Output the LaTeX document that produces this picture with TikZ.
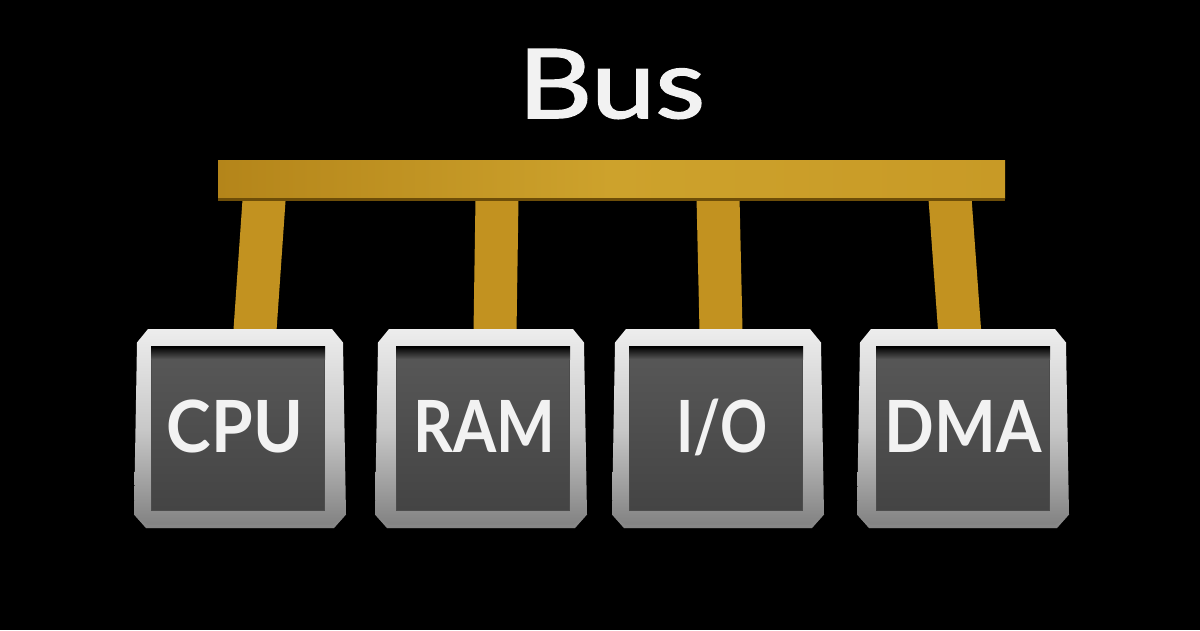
\documentclass[tikz,border=0pt]{standalone}
\usepackage{fontspec}
\usepackage{graphicx}
\setmainfont{Lato}
\newfontfamily\titlefont[FakeBold=1.6]{Lato}
\definecolor{gold}{HTML}{C29220}
\definecolor{goldL}{HTML}{B4851A}
\definecolor{goldM}{HTML}{CDA22C}
\definecolor{goldR}{HTML}{C89A26}
\definecolor{goldD}{HTML}{6E4E08}
\definecolor{frameT}{HTML}{EDEDED}
\definecolor{frameM}{HTML}{C8C8C8}
\definecolor{frameB}{HTML}{808080}
\definecolor{faceT}{HTML}{585858}
\definecolor{faceB}{HTML}{444444}
\definecolor{txt}{HTML}{F2F2F2}
\pgfdeclarelayer{bg}
\pgfdeclarelayer{posts}
\pgfsetlayers{bg,posts,main}
\newcommand\fitw[2]{\resizebox{#1}{\height}{#2}}
\begin{document}
\begin{tikzpicture}[x=1pt,y=-1pt,
  title/.style={text=txt, font=\fontsize{96}{100}\titlefont, anchor=base, inner sep=0pt},
  busbar/.style={rectangle, minimum width=787pt, minimum height=38pt, inner sep=0pt,
    left color=goldL, right color=goldR, middle color=goldM},
  post/.style={line width=43pt, draw=gold},
  boxhold/.style={rectangle, minimum width=212pt, minimum height=199pt, inner sep=0pt},
  frameshade/.style={top color=frameT, bottom color=frameB, middle color=frameM},
  boxface/.style={rectangle, minimum width=173pt, minimum height=163pt, inner sep=0pt,
    top color=faceT, bottom color=faceB, draw=black!70, line width=1pt},
  lbl/.style={text=txt, font=\fontsize{72}{80}\selectfont\bfseries, anchor=base, inner sep=0pt}
]
\useasboundingbox (0,0) rectangle (1200,630);
\begin{pgfonlayer}{bg}
\fill[black] (0,0) rectangle (1200,630);
\end{pgfonlayer}

% title
\node[title] (title) at (611.5,118) {\fitw{187pt}{Bus}};

% bus bar
\node[busbar] (bus) at (611.5,179) {};
\fill[goldD] (bus.south west) rectangle ([yshift=-3pt]bus.south east);

% boxes (named holders)
\node[boxhold] (cpu) at (240,428.5) {};
\node[boxhold] (ram) at (481,428.5) {};
\node[boxhold] (io)  at (718,428.5) {};
\node[boxhold] (dma) at (963,428.5) {};

% chamfered silver frames
\foreach \b in {cpu,ram,io,dma}{
  \shade[frameshade]
    ([shift={(-92,-99.5)}]\b.center) -- ([shift={(92,-99.5)}]\b.center)
    -- ([shift={(103,-86)}]\b.center) -- ([shift={(106,86)}]\b.center)
    -- ([shift={(94,99.5)}]\b.center) -- ([shift={(-94,99.5)}]\b.center)
    -- ([shift={(-106,86)}]\b.center) -- ([shift={(-103,-86)}]\b.center) -- cycle;
  \fill[black!45, opacity=0.5]
    ([shift={(-106,86)}]\b.center) -- ([shift={(-94,99.5)}]\b.center)
    -- ([shift={(94,99.5)}]\b.center) -- ([shift={(106,86)}]\b.center)
    -- ([shift={(104,88)}]\b.center) -- ([shift={(93,96)}]\b.center)
    -- ([shift={(-93,96)}]\b.center) -- ([shift={(-104,88)}]\b.center) -- cycle;
}

% faces
\node[boxface] (cpuF) at (238,428.5) {};
\node[boxface] (ramF) at (483,428.5) {};
\node[boxface] (ioF)  at (716,428.5) {};
\node[boxface] (dmaF) at (963,428.5) {};
\foreach \f in {cpuF,ramF,ioF,dmaF}{
  \shade[top color=black, bottom color=faceT] (\f.north west) rectangle ([yshift=-13pt]\f.north east);
}

% posts (behind bus and boxes)
\begin{pgfonlayer}{posts}
\draw[post] ([xshift=-346pt]bus.center) -- ([xshift=14.4pt,yshift=-10pt]cpu.north);
\draw[post] ([xshift=-114.2pt]bus.center) -- ([xshift=13.9pt,yshift=-10pt]ram.north);
\draw[post] ([xshift=106.1pt]bus.center) -- ([xshift=3.2pt,yshift=-10pt]io.north);
\draw[post] ([xshift=337.1pt]bus.center) -- ([xshift=-2.8pt,yshift=-10pt]dma.north);
\end{pgfonlayer}

% labels
\node[lbl] (cpuL) at (235,452) {\fitw{136pt}{CPU}};
\node[lbl] (ramL) at (484,452) {\fitw{142pt}{RAM}};
\node[lbl] (ioL)  at (722,452) {\fitw{91pt}{I/O}};
\node[lbl] (dmaL) at (963,452) {\fitw{157pt}{DMA}};
\end{tikzpicture}
\end{document}
